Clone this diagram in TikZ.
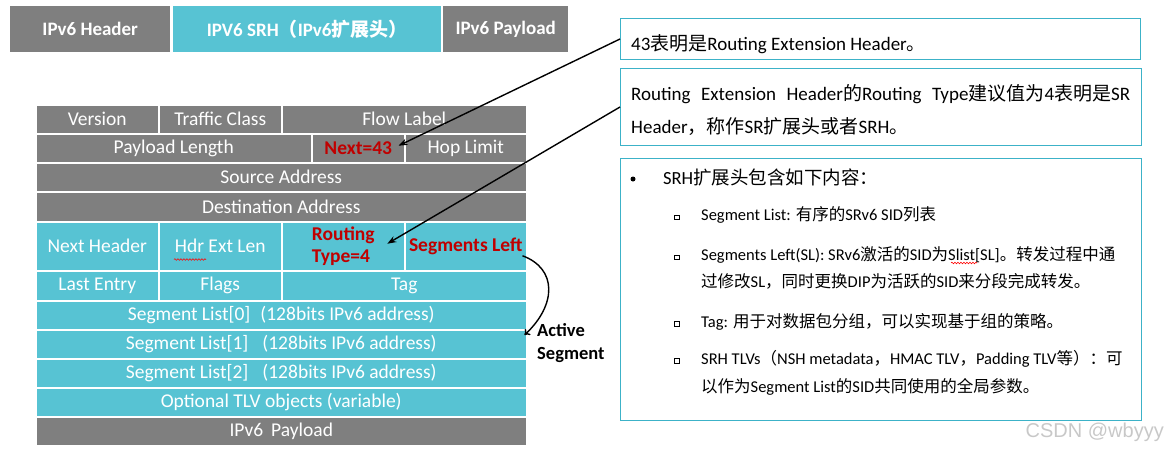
\documentclass[tikz,border=0pt]{standalone}
\usepackage{fontspec}
\setmainfont{Carlito}
\newfontfamily\cjk{Noto Sans CJK SC}
\newfontfamily\wmfont{Liberation Sans}
\usetikzlibrary{arrows.meta,calc,decorations.pathmorphing}
\definecolor{cgray}{RGB}{127,127,127}
\definecolor{ccyan}{RGB}{87,195,211}
\definecolor{cred}{RGB}{192,0,0}
\definecolor{cborder}{RGB}{60,178,200}
\definecolor{cwm}{RGB}{200,200,200}
\begin{document}
\begin{tikzpicture}[x=1pt,y=-1pt,
  cell/.style={anchor=north west, inner sep=0pt, draw=white, line width=1.5pt, text=white, font=\fontsize{19.5}{22.6}\selectfont},
  gcell/.style={cell, fill=cgray},
  ccell/.style={cell, fill=ccyan},
  redt/.style={text=cred, font=\fontsize{19.5}{22.6}\selectfont\bfseries},
  topbox/.style={anchor=north west, inner sep=0pt, text=white, font=\fontsize{19}{22}\selectfont\bfseries, minimum height=46pt},
  note/.style={draw=cborder, line width=1pt, anchor=north west, inner sep=0pt, fill=none},
  txt/.style={anchor=base west, inner sep=0pt, font=\fontsize{19}{22}\selectfont},
  itm/.style={anchor=base west, inner sep=0pt, font=\fontsize{16.5}{20}\selectfont},
  sq/.style={draw=black, line width=0.7pt, minimum size=4.5pt, inner sep=0pt},
  arr/.style={-{Stealth[length=9pt,width=6.5pt]}, line width=1.4pt},
  squig/.style={draw=red, line width=0.6pt, decorate, decoration={snake, amplitude=0.8pt, segment length=3pt}},
]
\useasboundingbox (0,0) rectangle (1165,450);

% top bar
\node[topbox, fill=cgray, minimum width=160pt] (thdr) at (10,6) {IPv6 Header};
\node[topbox, fill=ccyan, minimum width=268pt] (tsrh) at (173,6) {IPV6 SRH{\cjk\bfseries （}IPv6{\cjk\bfseries 扩展头）}};
\node[topbox, fill=cgray, minimum width=125pt] (tpay) at (443,6) {IPv6 Payload};

% IPv6 header rows
\node[gcell, minimum width=123pt, minimum height=29pt] (ver) at (35,104) {Version};
\node[gcell, minimum width=123pt, minimum height=29pt] (tc) at (158,104) {Traffic Class};
\node[gcell, minimum width=245pt, minimum height=29pt] (fl) at (281,104) {Flow Label};
\node[gcell, minimum width=276pt, minimum height=29pt] (pl) at (35,133) {Payload Length};
\node[gcell, redt, minimum width=93pt, minimum height=29pt] (nx) at (311,133) {Next=43};
\node[gcell, minimum width=122pt, minimum height=29pt] (hl) at (404,133) {Hop Limit};
\node[gcell, minimum width=491pt, minimum height=29pt] (src) at (35,162) {Source Address};
\node[gcell, minimum width=491pt, minimum height=30pt] (dst) at (35,191) {Destination Address};

% SRH rows
\node[ccell, minimum width=123pt, minimum height=49pt] (nh) at (35,221) {Next Header};
\node[ccell, minimum width=123pt, minimum height=49pt] (hel) at (158,221) {Hdr Ext Len};
\node[ccell, redt, align=left, minimum width=123pt, minimum height=49pt] (rt) at (281,221) {Routing\\Type=4};
\node[ccell, redt, minimum width=122pt, minimum height=49pt] (sl) at (404,221) {Segments Left};
\node[ccell, minimum width=123pt, minimum height=30pt] (le) at (35,270) {Last Entry};
\node[ccell, minimum width=123pt, minimum height=30pt] (fg) at (158,270) {Flags};
\node[ccell, minimum width=245pt, minimum height=30pt] (tag) at (281,270) {Tag};
\node[ccell, minimum width=491pt, minimum height=29pt] (s0) at (35,300) {Segment List[0]\hspace{10pt}(128bits IPv6 address)};
\node[ccell, minimum width=491pt, minimum height=29pt] (s1) at (35,329) {Segment List[1]\hspace{14pt}(128bits IPv6 address)};
\node[ccell, minimum width=491pt, minimum height=29pt] (s2) at (35,358) {Segment List[2]\hspace{14pt}(128bits IPv6 address)};
\node[ccell, minimum width=491pt, minimum height=29pt] (tlv) at (35,387) {Optional TLV objects (variable)};
\node[gcell, minimum width=491pt, minimum height=29pt] (ipp) at (35,416) {IPv6\hspace{8pt}Payload};

\draw[squig] (174,259.5) -- (206,259.5);

% annotation
\node[anchor=west, inner sep=0pt, align=left, font=\fontsize{18.5}{23}\selectfont\bfseries] (act) at (537,343.5) {Active\\Segment};

% right boxes
\node[note, minimum width=520pt, minimum height=41pt] (b1) at (620,18) {};
\node[note, minimum width=521pt, minimum height=77pt] (b2) at (620,68) {};
\node[note, minimum width=521pt, minimum height=262pt] (b3) at (620,158) {};

\node[txt] (t1) at (631,50) {43{\cjk 表明是}Routing Extension Header{\cjk 。}};
\node[txt] (t2a) at (631,100) {\hbox to 499pt{Routing Extension Header{\cjk 的}Routing Type{\cjk 建议值为}4{\cjk 表明是}SR}};
\node[txt] (t2b) at (631,133) {Header{\cjk ，称作}SR{\cjk 扩展头或者}SRH{\cjk 。}};

\node[circle, fill=black, inner sep=0pt, minimum size=5pt] (bul) at (633,179) {};
\node[txt, font=\fontsize{18.5}{22}\selectfont] (h3) at (663,184.5) {SRH{\cjk 扩展头包含如下内容：}};

\node[sq] (q1) at (677,217.5) {};
\node[itm] (i1) at (701,220.5) {Segment List: {\cjk 有序的}SRv6 SID{\cjk 列表}};
\node[sq] (q2) at (677,257.5) {};
\node[itm] (i2a) at (701,260.5) {Segments Left(SL): SRv6{\cjk 激活的}SID{\cjk 为}Slist[SL]{\cjk 。转发过程中通}};
\node[itm] (i2b) at (701,287) {{\cjk 过修改}SL{\cjk ，同时更换}DIP{\cjk 为活跃的}SID{\cjk 来分段完成转发。}};
\node[sq] (q3) at (677,324) {};
\node[itm] (i3) at (701,327) {Tag: {\cjk 用于对数据包分组，可以实现基于组的策略。}};
\node[sq] (q4) at (677,361) {};
\node[itm] (i4a) at (701,364) {SRH TLVs{\cjk （}NSH metadata{\cjk ，}HMAC TLV{\cjk ，}Padding TLV{\cjk 等）：可}};
\node[itm] (i4b) at (701,392) {{\cjk 以作为}Segment List{\cjk 的}SID{\cjk 共同使用的全局参数。}};

\draw[squig] (951,263) -- (977,263);

% watermark
\node[anchor=east, inner sep=0pt, text=cwm, font=\wmfont\fontsize{20}{20}\selectfont] (wm) at (1164,432) {CSDN @wbyyy};

% connectors
\draw[arr] (b1.west) -- ($(nx.east)+(-7,-2.5)$);
\draw[arr] (b2.west) -- ($(rt.center)+(44,-2.5)$);
\draw[-{To[length=5pt,width=8pt]}, line width=1.4pt] ($(sl.east)+(-5,9.5)$) .. controls +(35,13) and +(32,-30) .. ($(s1.north east)+(-3,6)$);
\end{tikzpicture}
\end{document}
